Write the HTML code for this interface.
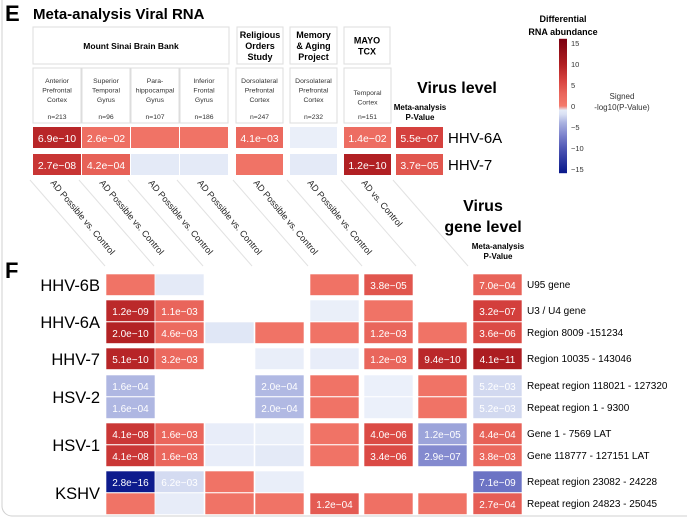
<!DOCTYPE html>
<html><head><meta charset="utf-8">
<style>
html,body{margin:0;padding:0;background:#fff;}
svg{display:block;font-family:"Liberation Sans",Arial,sans-serif;}
</style></head>
<body>
<svg id="fig" width="687" height="522" viewBox="0 0 687 522">
<rect x="2" y="-10" width="700" height="526" rx="10" fill="#fff" stroke="#d0d0d0" stroke-width="1"/>
<text x="5" y="21" font-size="22" font-weight="bold">E</text>
<text x="33" y="19" font-size="15" font-weight="bold">Meta-analysis Viral RNA</text>
<g id="hdr"></g>
<g id="eg"></g>
<g id="diag"></g>
<g id="fg"></g>
<g id="cb"></g>
<text x="457" y="93" font-size="16" font-weight="bold" text-anchor="middle">Virus level</text>
<text x="420" y="110" font-size="8" font-weight="bold" text-anchor="middle">Meta-analysis</text>
<text x="420" y="120" font-size="8" font-weight="bold" text-anchor="middle">P-Value</text>
<text x="483" y="211" font-size="16" font-weight="bold" text-anchor="middle">Virus</text>
<text x="483" y="232" font-size="16" font-weight="bold" text-anchor="middle">gene level</text>
<text x="498" y="249" font-size="8" font-weight="bold" text-anchor="middle">Meta-analysis</text>
<text x="498" y="259" font-size="8" font-weight="bold" text-anchor="middle">P-Value</text>
<text x="5" y="278" font-size="22" font-weight="bold">F</text>
</svg>
<script>
// ---- data ----
const eViruses = ["HHV-6A","HHV-7"];
const eVals = [
  [9.2, 1.6, 1.0, 1.0, 2.4, -0.4, 1.85, 6.3],
  [7.6, 3.4, -1.0, -1.0, 1.0, -1.0, 9.9, 4.4]
];
const eText = [
  ["6.9e\u221210","2.6e\u221202","","","4.1e\u221203","","1.4e\u221202","5.5e\u221207"],
  ["2.7e\u221208","4.2e\u221204","","","","","1.2e\u221210","3.7e\u221205"]
];
const fGenes = ["U95 gene","U3 / U4 gene","Region 8009 -151234","Region 10035 - 143046","Repeat region 118021 - 127320","Repeat region 1 - 9300","Gene 1 - 7569 LAT","Gene 118777 - 127151 LAT","Repeat region 23082 - 24228","Repeat region 24823 - 25045"];
const fVirusNames = ["HHV-6B","HHV-6A","HHV-7","HSV-2","HSV-1","KSHV"];
const fVirusRows = [[0],[1,2],[3],[4,5],[6,7],[8,9]];
const fVals = [
  [1.0, -1.0, null, null, 1.2, 4.4, null, 3.2],
  [8.9, 3.0, null, null, -0.4, 1.0, null, 6.5],
  [9.7, 2.3, -1.3, 1.0, 1.0, 2.9, 1.0, 5.4],
  [9.3, 2.5, null, -0.5, -0.6, 2.9, 9.0, 10.4],
  [-3.8, null, null, -3.7, 1.0, -0.3, 1.0, -2.3],
  [-3.8, null, null, -3.7, 1.0, -0.3, 1.0, -2.3],
  [7.4, 2.8, -0.6, -0.4, 1.0, 5.4, -4.9, 3.4],
  [7.4, 2.8, -0.6, -1.0, 1.0, 5.5, -6.5, 2.4],
  [-15.6, -2.2, 1.0, -0.5, null, null, null, -8.1],
  [1.0, -0.7, 1.0, 1.0, 3.9, 1.5, 1.0, 3.6]
];
const fText = [
  ["","","","","","3.8e\u221205","","7.0e\u221204"],
  ["1.2e\u221209","1.1e\u221203","","","","","","3.2e\u221207"],
  ["2.0e\u221210","4.6e\u221203","","","","1.2e\u221203","","3.6e\u221206"],
  ["5.1e\u221210","3.2e\u221203","","","","1.2e\u221203","9.4e\u221210","4.1e\u221211"],
  ["1.6e\u221204","","","2.0e\u221204","","","","5.2e\u221203"],
  ["1.6e\u221204","","","2.0e\u221204","","","","5.2e\u221203"],
  ["4.1e\u221208","1.6e\u221203","","","","4.0e\u221206","1.2e\u221205","4.4e\u221204"],
  ["4.1e\u221208","1.6e\u221203","","","","3.4e\u221206","2.9e\u221207","3.8e\u221203"],
  ["2.8e\u221216","6.2e\u221203","","","","","","7.1e\u221209"],
  ["","","","","1.2e\u221204","","","2.7e\u221204"]
];
const studies = [["Mount Sinai Brain Bank"],["Religious","Orders","Study"],["Memory","& Aging","Project"],["MAYO","TCX"]];
const tissues = [["Anterior","Prefrontal","Cortex"],["Superior","Temporal","Gyrus"],["Para-","hippocampal","Gyrus"],["Inferior","Frontal","Gyrus"],["Dorsolateral","Prefrontal","Cortex"],["Dorsolateral","Prefrontal","Cortex"],["Temporal","Cortex"]];
const nLabels = ["n=213","n=96","n=107","n=186","n=247","n=232","n=151"];
const comparisons = ["AD Possible vs. Control","AD Possible vs. Control","AD Possible vs. Control","AD Possible vs. Control","AD Possible vs. Control","AD Possible vs. Control","AD vs. Control"];
const cbTicks = [15,10,5,0,-5,-10,-15];

// ---- helpers ----
const NS="http://www.w3.org/2000/svg";
function mk(tag, attrs, parent){const e=document.createElementNS(NS,tag);for(const k in attrs)e.setAttribute(k,attrs[k]);parent.appendChild(e);return e;}
function hex(c){return [parseInt(c.slice(1,3),16),parseInt(c.slice(3,5),16),parseInt(c.slice(5,7),16)];}
const posStops=[[0,"#f47a6c"],[3,"#e9655b"],[6,"#d84440"],[10,"#b01f22"],[16,"#7a0010"]];
const negStops=[[0,"#eef3fb"],[2,"#d9e0f3"],[4,"#aab2e0"],[7,"#7c82cc"],[10,"#5058b5"],[16,"#08178a"]];
function color(v){
  const st=v>=0?posStops:negStops; const a=Math.min(Math.abs(v),16);
  for(let i=0;i<st.length-1;i++){ if(a<=st[i+1][0]){const t=(a-st[i][0])/(st[i+1][0]-st[i][0]);const c1=hex(st[i][1]),c2=hex(st[i+1][1]);return "rgb("+c1.map((c,j)=>Math.round(c+(c2[j]-c)*t)).join(",")+")";}}
  return st[st.length-1][1];
}
const eColX=[33,82,131,180,236,290,344,396], eColW=[48,48,48,48,47,47,47,47];
const fColX=[106,155,205,255,310,364,418,473], fColW=[49,49,49,49,49,49,49,49];
const eRowY=i=>127+i*27, eRowH=21;
const fRowYs=[274,300,322,348,375,397,423,445,471,493], fRowH=21.5;

// ---- headers ----
const hdr=document.getElementById('hdr');
const studyBoxes=[[33,229],[237,283],[290,337],[344,390]];
studies.forEach((s,i)=>{
  const [x1,x2]=studyBoxes[i];
  const r=mk('rect',{x:x1,y:27,width:x2-x1,height:37,fill:"#fff",stroke:"#ddd"},hdr);
  
  
  const y0=46-(s.length-1)*5.5+3;
  s.forEach((ln,j)=>{const t=mk('text',{x:(x1+x2)/2,y:y0+j*11,"font-size":i==0?8.5:9,"font-weight":"bold","text-anchor":"middle"},hdr);t.textContent=ln;
  
  });
});
tissues.forEach((tl,i)=>{
  const x=eColX[i],w=eColW[i];
  const r=mk('rect',{x:x,y:68,width:w,height:55,fill:"#fff",stroke:"#ddd"},hdr);
  
  
  const y0=tl.length==3?83:95;
  tl.forEach((ln,j)=>{const t=mk('text',{x:x+w/2,y:y0+j*9.5,"font-size":6.8,fill:"#333","text-anchor":"middle"},hdr);t.textContent=ln;
  
  });
  const n=mk('text',{x:x+w/2,y:119,"font-size":6.8,fill:"#333","text-anchor":"middle"},hdr);n.textContent=nLabels[i];
  
  
});

// ---- E heatmap ----
const eg=document.getElementById('eg');
eVals.forEach((row,r)=>{
  row.forEach((v,c)=>{
    const rc=mk('rect',{x:eColX[c],y:eRowY(r),width:eColW[c],height:eRowH,fill:color(v)},eg);
    
    
    if(eText[r][c]){const t=mk('text',{x:eColX[c]+eColW[c]/2,y:eRowY(r)+15,"font-size":10.5,fill:"#fff","text-anchor":"middle"},eg);t.textContent=eText[r][c];
    
    }
  });
  const l=mk('text',{x:448,y:eRowY(r)+16,"font-size":15},eg);l.textContent=eViruses[r];
  
  
});

// ---- diagonal comparison labels ----
const dg=document.getElementById('diag');
for(let i=0;i<8;i++){
  const x=eColX[i]-3;
  const ln=mk('line',{x1:x,y1:180,x2:x+75,y2:266,stroke:"#e2e2e2","stroke-width":1},dg);
  
  
}
comparisons.forEach((c,i)=>{
  const x=eColX[i]+17,y=183;
  const t=mk('text',{x:x,y:y,"font-size":9,fill:"#222",transform:`rotate(50 ${x} ${y})`},dg);t.textContent=c;
  
  
});

// ---- F heatmap ----
const fg=document.getElementById('fg');
fVals.forEach((row,r)=>{
  row.forEach((v,c)=>{
    if(v===null)return;
    const rc=mk('rect',{x:fColX[c],y:fRowYs[r],width:fColW[c],height:fRowH,fill:color(v),stroke:"#fff","stroke-width":0.6},fg);
    
    
    if(fText[r][c]){const t=mk('text',{x:fColX[c]+fColW[c]/2,y:fRowYs[r]+15,"font-size":10,fill:"#fff","text-anchor":"middle"},fg);t.textContent=fText[r][c];
    
    }
  });
  const g=mk('text',{x:527,y:fRowYs[r]+14,"font-size":10},fg);g.textContent=fGenes[r];
  
  
});
fVirusNames.forEach((n,i)=>{
  const rows=fVirusRows[i];const y0=fRowYs[rows[0]],y1=fRowYs[rows[rows.length-1]]+fRowH;
  const t=mk('text',{x:100,y:(y0+y1)/2+6,"font-size":16.5,"text-anchor":"end"},fg);t.textContent=n;
  
  
});

// ---- colorbar ----
const cb=document.getElementById('cb');
const cbY=v=>106-v*(63/15);
const defs=mk('defs',{},cb);
const lg=mk('linearGradient',{id:"cbg",x1:0,y1:0,x2:0,y2:1},defs);
for(let v=16;v>=-16;v-=1){mk('stop',{offset:((16-v)/32).toFixed(3),"stop-color":color(v)},lg);}
const bar=mk('rect',{x:559,y:cbY(16),width:8,height:cbY(-16)-cbY(16),fill:"url(#cbg)"},cb);


cbTicks.forEach(v=>{const t=mk('text',{x:571,y:cbY(v)+3,"font-size":7.5,fill:"#333"},cb);t.textContent=v<0?"\u2212"+(-v):String(v);

});
[["Differential",22],["RNA abundance",35]].forEach(([s,y])=>{const t=mk('text',{x:563,y:y,"font-size":9,"font-weight":"bold","text-anchor":"middle"},cb);t.textContent=s;

});
[["Signed",99],["-log10(P-Value)",110]].forEach(([s,y])=>{const t=mk('text',{x:622,y:y,"font-size":8,fill:"#333","text-anchor":"middle"},cb);t.textContent=s;

});
</script>
</body></html>
